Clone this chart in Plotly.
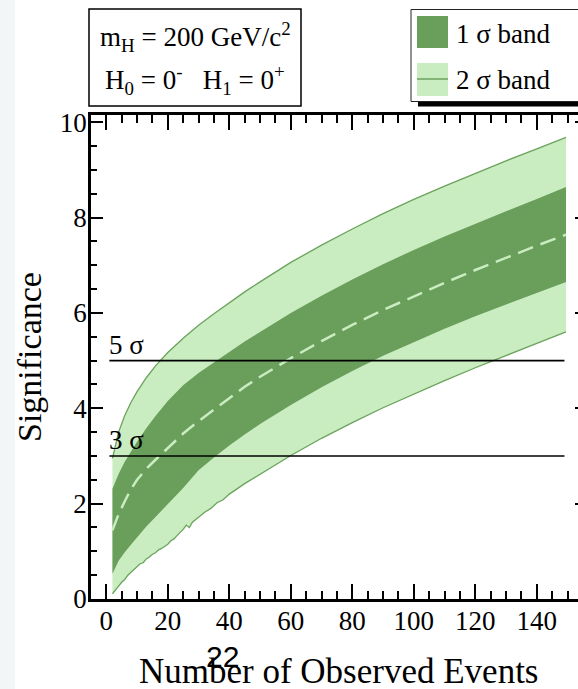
import plotly.graph_objects as go

# ---------------------------------------------------------------------------
# Expected significance vs. number of observed events (m_H = 200 GeV/c^2)
# ---------------------------------------------------------------------------
x_grid = [2, 4, 6, 8, 10, 13, 16, 20, 25, 30, 35, 40, 45, 50, 60, 70, 80, 90,
          100, 110, 120, 130, 140, 149.5]

upper_2sigma = [2.95, 3.50, 3.85, 4.12, 4.35, 4.64, 4.89, 5.17, 5.47, 5.74,
                5.98, 6.21, 6.44, 6.65, 7.06, 7.42, 7.76, 8.08, 8.38, 8.66,
                8.93, 9.19, 9.44, 9.68]
upper_1sigma = [2.31, 2.62, 2.88, 3.09, 3.30, 3.58, 3.84, 4.15, 4.48, 4.74,
                4.96, 5.18, 5.40, 5.60, 6.00, 6.36, 6.70, 7.02, 7.32, 7.60,
                7.87, 8.13, 8.39, 8.64]
median = [1.44, 1.78, 2.05, 2.30, 2.50, 2.73, 2.92, 3.17, 3.47, 3.73, 3.97,
          4.22, 4.45, 4.66, 5.05, 5.41, 5.75, 6.06, 6.35, 6.63, 6.90, 7.16,
          7.41, 7.64]
lower_1sigma = [0.53, 0.80, 0.98, 1.14, 1.30, 1.52, 1.72, 1.98, 2.33, 2.70,
                2.97, 3.22, 3.45, 3.67, 4.07, 4.44, 4.78, 5.10, 5.39, 5.67,
                5.93, 6.18, 6.42, 6.65]

# the lower 2-sigma edge is statistically noisy at low counts
x_low2 = [2, 3, 4, 5, 6, 7, 8, 9, 10, 11, 12, 13, 14, 15, 16, 17, 18, 19, 20,
          21, 22, 23, 24, 25, 26, 27, 28, 29, 30, 32, 34, 36, 38, 40, 45, 50,
          60, 70, 80, 90, 100, 110, 120, 130, 140, 149.5]
lower_2sigma = [0.11, 0.20, 0.27, 0.35, 0.41, 0.50, 0.56, 0.63, 0.67, 0.74,
                0.76, 0.84, 0.88, 0.94, 0.97, 1.03, 1.06, 1.10, 1.15, 1.22,
                1.26, 1.33, 1.39, 1.46, 1.55, 1.50, 1.61, 1.66, 1.73, 1.82,
                1.90, 2.02, 2.08, 2.20, 2.42, 2.62, 3.01, 3.37, 3.70, 4.01,
                4.30, 4.58, 4.85, 5.11, 5.36, 5.60]

ref_levels = [3, 5]
ref_labels = ["3 σ", "5 σ"]
ref_x = [1, 149]

x_ticks = [0, 20, 40, 60, 80, 100, 120, 140]
y_ticks = [0, 2, 4, 6, 8, 10]

DARK = "#6a9e5b"
LIGHT = "#c9ecc0"
EDGE = "#6aa35c"
SERIF = "Liberation Serif, Times New Roman, serif"

# page / plot-area geometry in pixels
FIG_W, FIG_H = 578, 689
L, R, T, B = 91, 578, 115, 599
PW, PH = R - L, B - T


def px(xp):
    return (xp - L) / PW


def py(yp):
    return (B - yp) / PH


fig = go.Figure()

# 2 sigma band
fig.add_trace(go.Scatter(
    x=x_grid + x_low2[::-1], y=upper_2sigma + lower_2sigma[::-1],
    fill="toself", fillcolor=LIGHT, mode="lines", line=dict(width=0),
    hoverinfo="skip", showlegend=False))
fig.add_trace(go.Scatter(x=x_grid, y=upper_2sigma, mode="lines",
                         line=dict(color=EDGE, width=1.3), showlegend=False))
fig.add_trace(go.Scatter(x=x_low2, y=lower_2sigma, mode="lines",
                         line=dict(color=EDGE, width=1.3), showlegend=False))

# 1 sigma band
fig.add_trace(go.Scatter(
    x=x_grid + x_grid[::-1], y=upper_1sigma + lower_1sigma[::-1],
    fill="toself", fillcolor=DARK, mode="lines", line=dict(width=0),
    hoverinfo="skip", showlegend=False))

# median expectation
fig.add_trace(go.Scatter(x=x_grid, y=median, mode="lines",
                         line=dict(color=LIGHT, width=2.5, dash="16px,8px"),
                         showlegend=False))

# 3 sigma / 5 sigma reference lines
for lvl in ref_levels:
    fig.add_trace(go.Scatter(x=ref_x, y=[lvl, lvl], mode="lines",
                             line=dict(color="black", width=1.6),
                             showlegend=False))

# invisible trace to carry the right-hand tick stubs
fig.add_trace(go.Scatter(x=[None], y=[None], yaxis="y2", showlegend=False))

axis_font = dict(family=SERIF, size=27, color="black")

fig.update_layout(
    width=FIG_W, height=FIG_H,
    margin=dict(l=L, r=FIG_W - R, t=T, b=FIG_H - B, pad=0),
    paper_bgcolor="white", plot_bgcolor="white",
    xaxis=dict(range=[-4.98, 153.4], tickvals=x_ticks, ticks="inside",
               ticklen=15, tickwidth=2, tickcolor="black",
               minor=dict(dtick=5, tick0=0, ticks="inside", ticklen=8,
                          tickwidth=1.6, tickcolor="black"),
               showline=True, linecolor="black", linewidth=2.5,
               mirror="ticks", showgrid=False, zeroline=False,
               tickfont=axis_font, ticklabelstandoff=-4),
    yaxis=dict(range=[0, 10.15], tickvals=y_ticks, ticks="inside",
               ticklen=12, tickwidth=2, tickcolor="black",
               minor=dict(dtick=0.5, tick0=0, ticks="inside", ticklen=6,
                          tickwidth=1.6, tickcolor="black"),
               showline=True, linecolor="black", linewidth=2.5,
               mirror=False, showgrid=False, zeroline=False,
               tickfont=axis_font, ticklabelstandoff=-4),
    yaxis2=dict(range=[0, 10.15], overlaying="y", side="right",
                tickvals=y_ticks, ticks="inside", ticklen=3, tickwidth=2,
                tickcolor="black", showticklabels=False, showline=False,
                showgrid=False, zeroline=False),
    showlegend=False,
)

shapes = [
    # left page strip
    dict(type="rect", xref="paper", yref="paper", x0=px(0), x1=px(15),
         y0=py(FIG_H), y1=py(0), fillcolor="#f2f6f7", line=dict(width=0),
         layer="below"),
    # parameter box
    dict(type="rect", xref="paper", yref="paper", x0=px(89), x1=px(301),
         y0=py(106), y1=py(9), fillcolor="white",
         line=dict(color="black", width=1.5)),
    # legend shadow and box
    dict(type="rect", xref="paper", yref="paper", x0=px(418), x1=px(590),
         y0=py(106.5), y1=py(101), fillcolor="black", line=dict(width=0)),
    dict(type="rect", xref="paper", yref="paper", x0=px(411), x1=px(590),
         y0=py(101.5), y1=py(9.5), fillcolor="white",
         line=dict(color="#222", width=1)),
    # legend swatches
    dict(type="rect", xref="paper", yref="paper", x0=px(417), x1=px(448),
         y0=py(48), y1=py(16), fillcolor=DARK, line=dict(width=0)),
    dict(type="rect", xref="paper", yref="paper", x0=px(417), x1=px(448),
         y0=py(96), y1=py(63), fillcolor=LIGHT, line=dict(width=0)),
    dict(type="line", xref="paper", yref="paper", x0=px(417), x1=px(448),
         y0=py(79), y1=py(79), line=dict(color=EDGE, width=1.5)),
]
fig.update_layout(shapes=shapes)

ann = []
txt = dict(family=SERIF, size=27, color="black")
ann.append(dict(xref="paper", yref="paper", x=px(195), y=py(37),
                text="m<sub>H</sub> = 200 GeV/c<sup>2</sup>", showarrow=False,
                xanchor="center", yanchor="middle", font=txt))
ann.append(dict(xref="paper", yref="paper", x=px(195), y=py(80),
                text="H<sub>0</sub> = 0<sup>-</sup>   H<sub>1</sub> = 0<sup>+</sup>",
                showarrow=False, xanchor="center", yanchor="middle", font=txt))
ann.append(dict(xref="paper", yref="paper", x=px(454), y=py(34),
                text="1 σ band", showarrow=False, xanchor="left",
                yanchor="middle", font=txt))
ann.append(dict(xref="paper", yref="paper", x=px(454), y=py(80),
                text="2 σ band", showarrow=False, xanchor="left",
                yanchor="middle", font=txt))
for lvl, lab, ypix in zip(ref_levels, ref_labels, [440, 345]):
    ann.append(dict(xref="paper", yref="paper", x=px(107), y=py(ypix),
                    text=lab, showarrow=False, xanchor="left",
                    yanchor="middle",
                    font=dict(family=SERIF, size=27, color="black")))
ann.append(dict(xref="paper", yref="paper", x=px(29), y=py(357),
                text="Significance", textangle=-90, showarrow=False,
                xanchor="center", yanchor="middle",
                font=dict(family=SERIF, size=34, color="black")))
ann.append(dict(xref="paper", yref="paper", x=px(338), y=py(671),
                text="Number of Observed Events", showarrow=False,
                xanchor="center", yanchor="middle",
                font=dict(family=SERIF, size=35, color="black")))
ann.append(dict(xref="paper", yref="paper", x=px(222), y=py(656),
                text="22", showarrow=False, xanchor="center",
                yanchor="middle",
                font=dict(family="Liberation Sans, Arial, sans-serif",
                          size=30, color="black")))
fig.update_layout(annotations=ann)

fig.write_html("out.html")
